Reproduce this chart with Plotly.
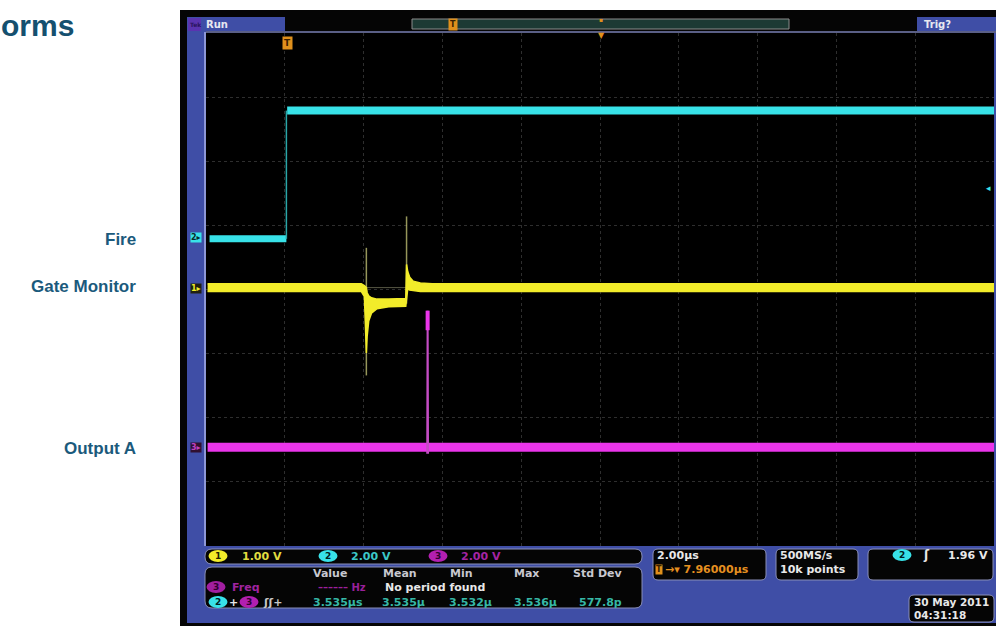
import plotly.graph_objects as go

W, H = 996, 626


def px(x):
    return x / W


def py(y):
    return 1 - y / H


# ---------------- data ----------------
# time in microseconds relative to the trigger, values in volts
# Channel 2 "Fire" (2 V/div)
fire_low_t = [-1.95, 0.0]
fire_low_v = [0.0, 0.0]
fire_high_t = [0.02, 17.96]
fire_high_v = [4.0, 4.0]
fire_edge_t = [0.0, 0.0]
fire_edge_v = [0.0, 4.0]

# Channel 1 "Gate Monitor" (1 V/div): envelope of the noisy trace
gate_t = [-2.0, 1.90, 1.98, 2.03, 2.05, 2.09, 2.16, 2.30, 2.60, 3.03, 3.05, 3.08, 3.13, 3.22, 3.40, 3.70, 17.96]
gate_hi = [0.06, 0.06, 0.03, 0.0, -0.08, -0.13, -0.16, -0.18, -0.18, -0.17, 0.36, 0.25, 0.16, 0.10, 0.07, 0.06, 0.06]
gate_lo = [-0.06, -0.06, -0.14, -1.02, -0.76, -0.52, -0.40, -0.33, -0.30, -0.29, -0.18, -0.02, -0.04, -0.05, -0.06, -0.06, -0.06]
gate_spike_t = [2.03, 2.03, None, 3.05, 3.05]
gate_spike_v = [0.62, -1.37, None, -0.25, 1.11]
gate_ghost_t = [2.03, 3.05]
gate_ghost_v = [0.0, 0.0]

# Channel 3 "Output A" (2 V/div)
out_t = [-2.0, 17.96]
out_v = [0.0, 0.0]
out_pulse_t = [3.575, 3.585, 3.595]
out_pulse_v = [-0.2, 4.26, -0.2]
out_blob_t = [3.585, 3.585]
out_blob_v = [3.65, 4.26]

# channel scale (V/div) and vertical position (div)
CH1_SCALE, CH1_POS = 1.0, 0.03
CH2_SCALE, CH2_POS = 2.0, 0.79
CH3_SCALE, CH3_POS = 2.0, -2.46

# scope settings
TIME_PER_DIV = 2.0
H_DELAY = 7.96

# measurement readout
meas_headers = ["Value", "Mean", "Min", "Max", "Std Dev"]
meas_values = ["3.535\u00b5s", "3.535\u00b5", "3.532\u00b5", "3.536\u00b5", "577.8p"]
channel_scales = ["1.00 V", "2.00 V", "2.00 V"]
labels = ["Fire", "Gate Monitor", "Output A"]


def div(v, scale, pos):
    return [None if a is None else a / scale + pos for a in v]


YEL = "#f2ec2a"
CYA = "#38e2e8"
MAG = "#ea35ea"
BLUE = "#3f4ea6"
TXT = "#1b5a7c"
SF = "DejaVu Sans"

fig = go.Figure()

# ---- Fire (cyan) ----
fig.add_trace(go.Scatter(x=fire_low_t, y=div(fire_low_v, CH2_SCALE, CH2_POS), mode="lines",
                         line=dict(color=CYA, width=7), hoverinfo="skip"))
fig.add_trace(go.Scatter(x=fire_high_t, y=div(fire_high_v, CH2_SCALE, CH2_POS), mode="lines",
                         line=dict(color=CYA, width=8), hoverinfo="skip"))
fig.add_trace(go.Scatter(x=fire_edge_t, y=div(fire_edge_v, CH2_SCALE, CH2_POS), mode="lines",
                         line=dict(color="#2aa6a8", width=1.5), hoverinfo="skip"))

# ---- Gate monitor (yellow) ----
fig.add_trace(go.Scatter(x=gate_ghost_t, y=div(gate_ghost_v, CH1_SCALE, CH1_POS), mode="lines",
                         line=dict(color="rgba(190,190,150,0.45)", width=1), hoverinfo="skip"))
fig.add_trace(go.Scatter(x=gate_spike_t, y=div(gate_spike_v, CH1_SCALE, CH1_POS), mode="lines",
                         line=dict(color="rgba(200,200,120,0.75)", width=1.5), hoverinfo="skip",
                         connectgaps=False))
fig.add_trace(go.Scatter(x=gate_t, y=div(gate_lo, CH1_SCALE, CH1_POS), mode="lines",
                         line=dict(color=YEL, width=1.5), hoverinfo="skip"))
fig.add_trace(go.Scatter(x=gate_t, y=div(gate_hi, CH1_SCALE, CH1_POS), mode="lines",
                         line=dict(color=YEL, width=1.5), fill="tonexty", fillcolor=YEL,
                         hoverinfo="skip"))

# ---- Output A (magenta) ----
fig.add_trace(go.Scatter(x=out_t, y=div(out_v, CH3_SCALE, CH3_POS), mode="lines",
                         line=dict(color=MAG, width=9), hoverinfo="skip"))
fig.add_trace(go.Scatter(x=out_pulse_t, y=div(out_pulse_v, CH3_SCALE, CH3_POS), mode="lines",
                         line=dict(color="#c44cc4", width=2), hoverinfo="skip"))
fig.add_trace(go.Scatter(x=out_blob_t, y=div(out_blob_v, CH3_SCALE, CH3_POS), mode="lines",
                         line=dict(color=MAG, width=4), hoverinfo="skip"))

shapes = []


def rect(x0, y0, x1, y1, fill, line=None, lw=0, layer="below"):
    shapes.append(dict(type="rect", xref="paper", yref="paper",
                       x0=px(x0), x1=px(x1), y0=py(y1), y1=py(y0),
                       fillcolor=fill, line=dict(color=line or fill, width=lw), layer=layer))


def rrect(x0, y0, x1, y1, r, fill, line, lw=1, layer="below"):
    p = (f"M {px(x0 + r)} {py(y0)} L {px(x1 - r)} {py(y0)} "
         f"Q {px(x1)} {py(y0)} {px(x1)} {py(y0 + r)} L {px(x1)} {py(y1 - r)} "
         f"Q {px(x1)} {py(y1)} {px(x1 - r)} {py(y1)} L {px(x0 + r)} {py(y1)} "
         f"Q {px(x0)} {py(y1)} {px(x0)} {py(y1 - r)} L {px(x0)} {py(y0 + r)} "
         f"Q {px(x0)} {py(y0)} {px(x0 + r)} {py(y0)} Z")
    shapes.append(dict(type="path", xref="paper", yref="paper", path=p,
                       fillcolor=fill, line=dict(color=line, width=lw), layer=layer))


def ellipse(cx, cy, w, h, fill):
    shapes.append(dict(type="circle", xref="paper", yref="paper",
                       x0=px(cx - w / 2), x1=px(cx + w / 2), y0=py(cy + h / 2), y1=py(cy - h / 2),
                       fillcolor=fill, line=dict(color=fill, width=0), layer="below"))


# scope bezel
rect(180, 10, 996, 626, "#050505")
rect(187, 17, 996, 623, BLUE)
rect(285, 17, 917, 32, "#050505")
rect(204, 32, 206, 546, "#8d97d6")
rect(206, 31, 996, 33, "#5a5f86")
rect(206, 33, 994, 546, "#000000")
rect(188, 18, 201, 31, "#5a34b0")
# record view bar
rect(412, 19, 789, 29, "#1d3a34", "#8c8c8c", 1)

# readout boxes
rrect(205, 549, 642, 564, 7, "#050505", "#8a8fb8", 1)
rrect(205, 567, 642, 608, 7, "#050505", "#8a8fb8", 1)
rrect(653, 549, 766, 580, 5, "#050505", "#8a8fb8", 1)
rrect(776, 549, 858, 580, 5, "#050505", "#8a8fb8", 1)
rrect(868, 549, 993, 580, 5, "#050505", "#8a8fb8", 1)
rrect(909, 595, 994, 622, 5, "#050505", "#8a8fb8", 1)

# channel badges
ellipse(218, 556, 19, 12, YEL)
ellipse(328, 556, 19, 12, CYA)
ellipse(438, 556, 19, 12, "#b21fb0")
ellipse(216, 587, 19, 12, "#a21ea0")
ellipse(218, 602, 19, 12, CYA)
ellipse(249, 602, 19, 12, "#b21fb0")
ellipse(902, 555, 19, 12, CYA)

annotations = []


def ann(x, y, text, color, size=11, xanchor="left", bold=True, family=SF, **kw):
    annotations.append(dict(x=px(x), y=py(y), xref="paper", yref="paper", showarrow=False,
                            text=f"<b>{text}</b>" if bold else text, xanchor=xanchor, yanchor="middle",
                            font=dict(color=color, size=size, family=family), **kw))


# page labels
ann(-1, 25, "orms", "#15506f", size=30, family="Liberation Sans")
ann(138, 239, labels[0], TXT, size=17, xanchor="right", family="Liberation Sans")
ann(138, 286, labels[1], TXT, size=17, xanchor="right", family="Liberation Sans")
ann(138, 448, labels[2], TXT, size=17, xanchor="right", family="Liberation Sans")

# top bar
ann(188, 24, "Tek", "#2a1460", size=6)
ann(204, 24, "Run", "#e8e8f0", size=10)
ann(922, 24, "Trig?", "#e8e8f0", size=10)
ann(448, 24, "T", "#3a2000", size=8, bgcolor="#e0901c", borderpad=1)
ann(601, 20, "\u25aa", "#e0901c", size=6, xanchor="center")
ann(601, 36, "\u25bc", "#e0901c", size=8, xanchor="center")
ann(287, 43, "T", "#3a2000", size=9, bgcolor="#e0901c", borderpad=1, xanchor="center")

# channel ground markers
ann(190, 238, "2\u25b8", "#0a2a2a", size=8, bgcolor=CYA, borderpad=0)
ann(190, 288, "1\u25b8", YEL, size=8, bgcolor="#202010", borderpad=0)
ann(190, 447, "3\u25b8", "#c040c0", size=8, bgcolor="#301030", borderpad=0)
ann(993, 188, "\u25c2", CYA, size=9, xanchor="right")

# channel row
ann(218, 556, "1", "#202000", size=9, xanchor="center")
ann(328, 556, "2", "#002020", size=9, xanchor="center")
ann(438, 556, "3", "#300030", size=9, xanchor="center")
ann(240, 556, channel_scales[0], "#e0dc40")
ann(349, 556, channel_scales[1], "#3cc8c8")
ann(459, 556, channel_scales[2], "#a424a4")

# measurement table
for xc, h in zip([330, 400, 461, 526, 597], meas_headers):
    ann(xc, 573, h, "#c8c8d0", xanchor="center")
ann(216, 587, "3", "#300030", size=9, xanchor="center")
ann(230, 587, "Freq", "#a024a0")
ann(368, 587, "\u2013\u2013\u2013\u2013\u2013\u2013 Hz", "#9a209a", size=10, xanchor="right")
ann(435, 587, "No period found", "#e8e8e8", xanchor="center")
ann(218, 602, "2", "#002020", size=9, xanchor="center")
ann(233, 602, "+", "#e8e8e8", xanchor="center")
ann(249, 602, "3", "#300030", size=9, xanchor="center")
ann(261, 602, "\u0283\u0283+", "#c8c8c8")
for xc, v in zip([338, 403, 470, 535, 600], meas_values):
    ann(xc, 602, v, "#36b8a6", xanchor="center")

# timebase, sample, trigger, date
ann(655, 555, "2.00\u00b5s", "#e8e8e8")
ann(655, 569, "T", "#3a2000", size=8, bgcolor="#e0901c", borderpad=0)
ann(663, 569, "\u2192\u25be 7.96000\u00b5s", "#e59020")
ann(778, 555, "500MS/s", "#e8e8e8")
ann(778, 569, "10k points", "#e8e8e8")
ann(902, 555, "2", "#002020", size=9, xanchor="center")
ann(921, 555, "\u0283", "#e8e8e8", size=12)
ann(990, 555, "1.96 V", "#e8e8e8", xanchor="right")
ann(951, 602, "30 May 2011", "#e8e8e8", size=10.5, xanchor="center")
ann(912, 615, "04:31:18", "#e8e8e8", size=10.5)

grid = dict(showgrid=True, gridcolor="#2e2e2e", griddash="dot", gridwidth=1,
            zeroline=False, showticklabels=False, ticks="", showline=False, fixedrange=True)

fig.update_layout(
    width=W, height=H, margin=dict(l=0, r=0, t=0, b=0),
    paper_bgcolor="white", plot_bgcolor="black", showlegend=False,
    xaxis=dict(domain=[px(206), px(994)],
               range=[H_DELAY - 5 * TIME_PER_DIV, H_DELAY + 5 * TIME_PER_DIV],
               tick0=H_DELAY, dtick=TIME_PER_DIV, **grid),
    yaxis=dict(domain=[py(546), py(33)], range=[-4, 4], tick0=0, dtick=1, **grid),
    shapes=shapes, annotations=annotations,
)

fig.write_html("out.html", config={"displayModeBar": False},
               post_script="document.body.style.margin='0';document.body.style.overflow='hidden';")
